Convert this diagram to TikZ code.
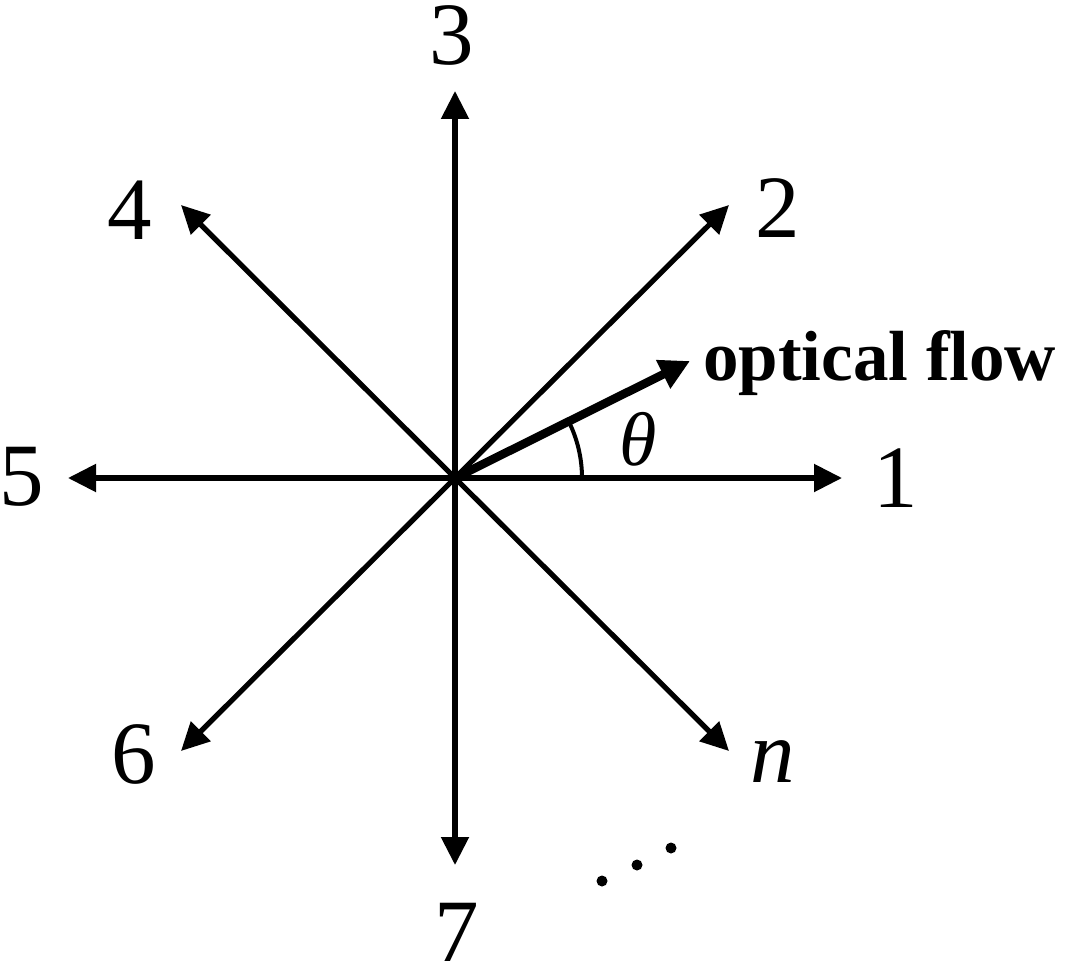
\documentclass[tikz,border=0pt]{standalone}
\usepackage{fontspec}
\setmainfont{Liberation Serif}
\usetikzlibrary{arrows.meta}
\begin{document}
\begin{tikzpicture}[x=1pt,y=-1pt,
  dirarrow/.style={line width=5.2pt,-{Triangle[length=28pt,width=27pt]}},
  flowarrow/.style={line width=8.5pt,-{Triangle[length=30pt,width=30pt]}},
  numlabel/.style={inner sep=0pt,font=\fontsize{89}{89}\selectfont},
  dotmark/.style={fill=black,draw=none}]
\useasboundingbox (0,0) rectangle (1065,963);
\coordinate (O) at (455,478);
\coordinate (t1) at (842,478);
\coordinate (t2) at (729,205);
\coordinate (t3) at (455,91);
\coordinate (t4) at (181,205);
\coordinate (t5) at (68,478);
\coordinate (t6) at (181,751);
\coordinate (t7) at (455,865);
\coordinate (tn) at (729,751);
\coordinate (tf) at (690,361);
\draw[dirarrow] (O) -- (t1);
\draw[dirarrow] (O) -- (t2);
\draw[dirarrow] (O) -- (t3);
\draw[dirarrow] (O) -- (t4);
\draw[dirarrow] (O) -- (t5);
\draw[dirarrow] (O) -- (t6);
\draw[dirarrow] (O) -- (t7);
\draw[dirarrow] (O) -- (tn);
\draw[flowarrow] (O) -- (tf);
\draw[line width=4pt] (582,478) arc[start angle=0,end angle=-26.5,radius=127];
\node[numlabel] (l1) at (896,478) {1};
\node[numlabel] (l2) at (778,208) {2};
\node[numlabel] (l3) at (452,35) {3};
\node[numlabel] (l4) at (130,210) {4};
\node[numlabel] (l5) at (22,477) {5};
\node[numlabel] (l6) at (134,754) {6};
\node[numlabel] (l7) at (457,932) {7};
\node[numlabel,font=\fontsize{89}{89}\selectfont\itshape] (ln) at (773,762) {n};
\node[inner sep=0pt,font=\fontsize{76}{76}\selectfont\itshape] (lth) at (638,439) {θ};
\node[inner sep=0pt,anchor=base west,font=\fontsize{71}{71}\selectfont\bfseries] (lf) at (703,380) {optical flow};
\fill[dotmark] (602,881) circle (5.5);
\fill[dotmark] (637,865) circle (5.5);
\fill[dotmark] (671,848) circle (5.5);
\end{tikzpicture}
\end{document}
